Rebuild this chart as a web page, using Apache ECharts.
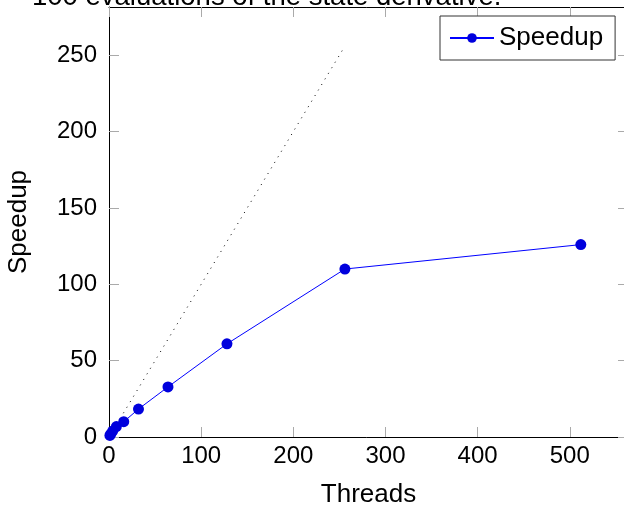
<!DOCTYPE html>
<html>
<head>
<meta charset="utf-8">
<script src="https://cdn.jsdelivr.net/npm/echarts@6/dist/echarts.min.js"></script>
<style>
  html, body { margin: 0; padding: 0; background: #fff; }
  #chart { width: 624px; height: 508px; }
</style>
</head>
<body>
<div id="chart"></div>
<script>
// measured data
const threads = [1, 2, 4, 8, 16, 32, 64, 128, 256, 512]
const speedup = [1, 2, 3.9, 6.8, 10, 18.3, 32.8, 61, 110, 126]
const idealThreads = [1, 256]
const xTicks = [0, 100, 200, 300, 400, 500]
const yTicks = [0, 50, 100, 150, 200, 250]

const font = '"Liberation Sans", Arial, sans-serif'
const tickColor = '#aaaaaa'

const chart = echarts.init(document.getElementById('chart'), null, { renderer: 'canvas' })

const baseX = {
  type: 'value',
  min: 0,
  max: 563.2,
  interval: 100,
  splitLine: { show: false },
  axisLine: { show: true, onZero: false, lineStyle: { color: '#000', width: 1 } },
  axisTick: { show: true, inside: true, length: 10, customValues: xTicks, lineStyle: { color: tickColor } }
}
const baseY = {
  type: 'value',
  min: 0,
  max: 281.6,
  interval: 50,
  splitLine: { show: false },
  axisLine: { show: true, onZero: false, lineStyle: { color: '#000', width: 1 } },
  axisTick: { show: true, inside: true, length: 10, customValues: yTicks, lineStyle: { color: tickColor } }
}

const option = {
  animation: false,
  textStyle: { fontFamily: font },
  title: {
    text: '100 evaluations of the state derivative.',
    left: 32,
    top: -17,
    padding: 0,
    textStyle: { fontFamily: font, fontSize: 27.5, fontWeight: 'normal', color: '#000' }
  },
  grid: { left: 109, right: -4, top: 7, bottom: 71, containLabel: false, outerBoundsMode: 'none' },
  legend: {
    left: 440,
    top: 16,
    orient: 'vertical',
    data: ['Speedup'],
    itemWidth: 44,
    itemHeight: 12,
    itemGap: 0,
    padding: [7, 12, 7, 9],
    borderColor: '#333',
    borderWidth: 1,
    borderRadius: 0,
    backgroundColor: '#fff',
    textStyle: { fontFamily: font, fontSize: 26, color: '#000', lineHeight: 30 }
  },
  xAxis: [
    Object.assign({}, baseX, {
      position: 'bottom',
      name: 'Threads',
      nameLocation: 'middle',
      nameGap: 45,
      nameTextStyle: { fontFamily: font, fontSize: 26, color: '#000' },
      axisLabel: { show: true, margin: 7, fontSize: 24, color: '#000', customValues: xTicks }
    }),
    Object.assign({}, baseX, {
      position: 'top',
      axisLabel: { show: false }
    })
  ],
  yAxis: [
    Object.assign({}, baseY, {
      position: 'left',
      name: 'Speedup',
      nameLocation: 'middle',
      nameGap: 77,
      nameTextStyle: { fontFamily: font, fontSize: 26, color: '#000' },
      axisLabel: { show: true, margin: 12, fontSize: 24, color: '#000', customValues: yTicks }
    }),
    Object.assign({}, baseY, {
      position: 'right',
      axisLabel: { show: false }
    })
  ],
  series: [
    {
      name: 'ideal',
      type: 'line',
      data: idealThreads.map(t => [t, t]),
      showSymbol: false,
      symbol: 'none',
      silent: true,
      lineStyle: { color: '#000', width: 1, type: [1, 5.5] },
      z: 1
    },
    {
      name: 'Speedup',
      type: 'line',
      data: threads.map((t, i) => [t, speedup[i]]),
      symbol: 'circle',
      symbolSize: 11,
      showSymbol: true,
      itemStyle: { color: '#0000dd' },
      lineStyle: { color: '#0000ff', width: 1 },
      z: 3
    }
  ]
}

chart.setOption(option)
</script>
</body>
</html>
